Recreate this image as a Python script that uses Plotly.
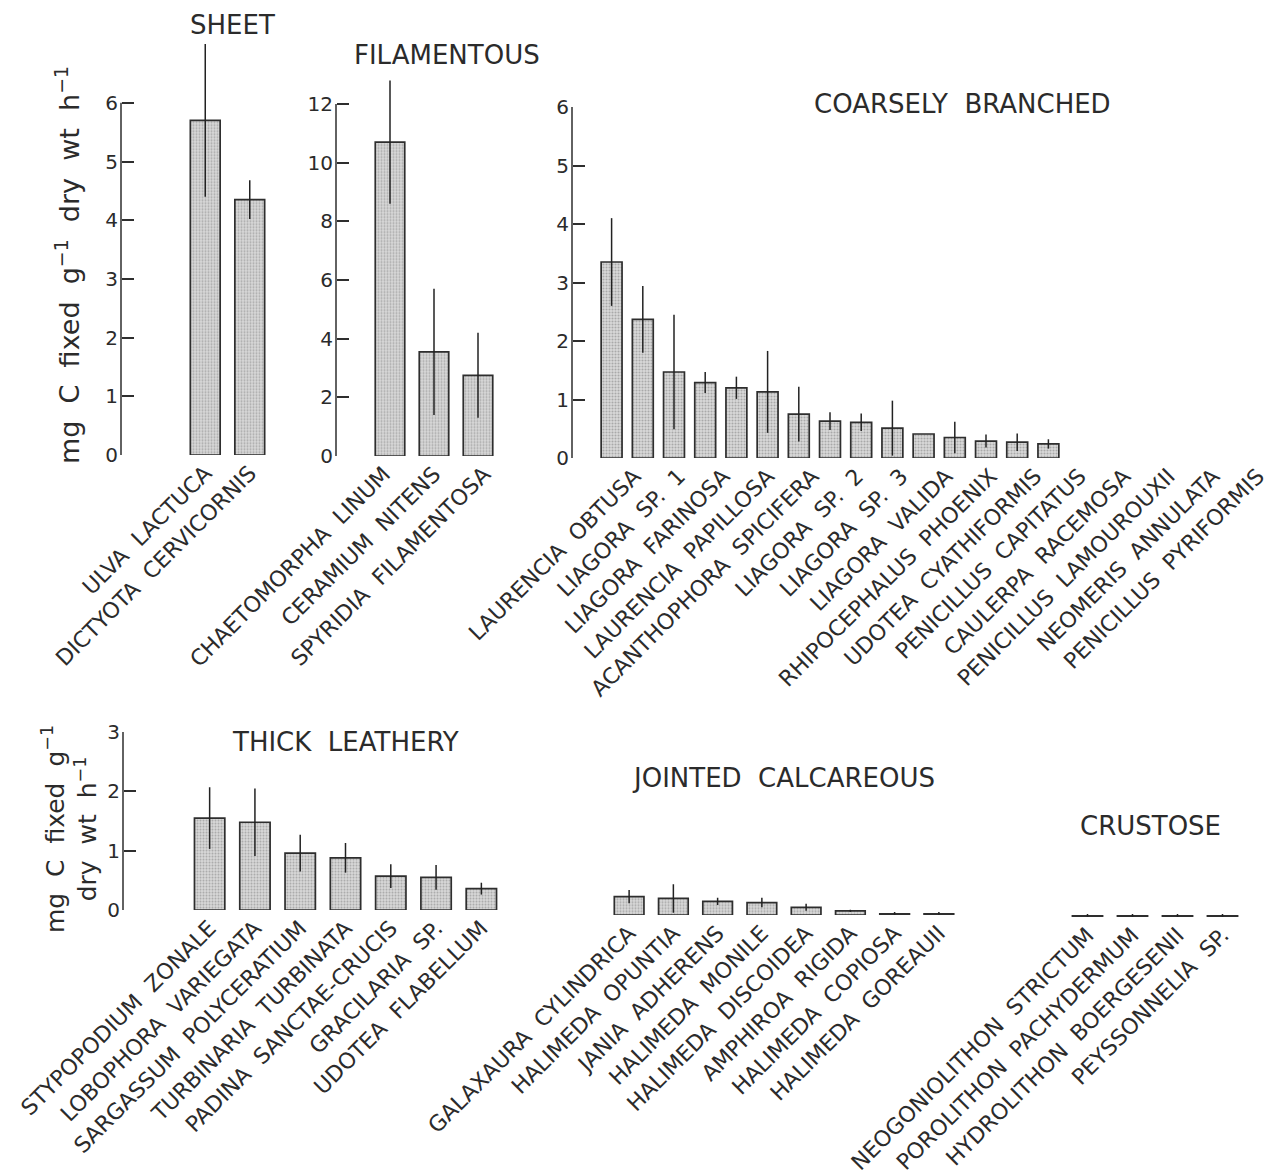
import plotly.graph_objects as go

FIG_W, FIG_H = 1288, 1174

# Net carbon fixation (mg C g^-1 dry wt h^-1), mean and SD per species,
# grouped by algal functional form.
sheet_species = ["ULVA LACTUCA", "DICTYOTA CERVICORNIS"]
sheet_rate = [5.7, 4.35]
sheet_sd = [1.3, 0.33]
sheet_ticks = [0, 1, 2, 3, 4, 5, 6]

filament_species = ["CHAETOMORPHA LINUM", "CERAMIUM NITENS", "SPYRIDIA FILAMENTOSA"]
filament_rate = [10.7, 3.55, 2.75]
filament_sd = [2.1, 2.15, 1.45]
filament_ticks = [0, 2, 4, 6, 8, 10, 12]

coarse_species = [
    "LAURENCIA OBTUSA", "LIAGORA SP. 1", "LIAGORA FARINOSA", "LAURENCIA PAPILLOSA",
    "ACANTHOPHORA SPICIFERA", "LIAGORA SP. 2", "LIAGORA SP. 3", "LIAGORA VALIDA",
    "RHIPOCEPHALUS PHOENIX", "UDOTEA CYATHIFORMIS", "PENICILLUS CAPITATUS",
    "CAULERPA RACEMOSA", "PENICILLUS LAMOUROUXII", "NEOMERIS ANNULATA",
    "PENICILLUS PYRIFORMIS",
]
coarse_rate = [3.35, 2.37, 1.47, 1.29, 1.2, 1.13, 0.75, 0.63, 0.61, 0.51, 0.41, 0.35, 0.29, 0.27, 0.24]
coarse_sd = [0.75, 0.57, 0.98, 0.18, 0.19, 0.7, 0.47, 0.15, 0.15, 0.47, 0.0, 0.27, 0.11, 0.15, 0.08]
coarse_ticks = [0, 1, 2, 3, 4, 5, 6]

leathery_species = [
    "STYPOPODIUM ZONALE", "LOBOPHORA VARIEGATA", "SARGASSUM POLYCERATIUM",
    "TURBINARIA TURBINATA", "PADINA SANCTAE-CRUCIS", "GRACILARIA SP.", "UDOTEA FLABELLUM",
]
leathery_rate = [1.55, 1.48, 0.96, 0.88, 0.57, 0.55, 0.36]
leathery_sd = [0.52, 0.57, 0.31, 0.25, 0.2, 0.21, 0.1]
leathery_ticks = [0, 1, 2, 3]

jointed_species = [
    "GALAXAURA CYLINDRICA", "HALIMEDA OPUNTIA", "JANIA ADHERENS", "HALIMEDA MONILE",
    "HALIMEDA DISCOIDEA", "AMPHIROA RIGIDA", "HALIMEDA COPIOSA", "HALIMEDA GOREAUII",
]
jointed_rate = [0.31, 0.28, 0.23, 0.21, 0.13, 0.07, 0.02, 0.02]
jointed_sd = [0.11, 0.24, 0.06, 0.08, 0.06, 0.02, 0.03, 0.03]

crustose_species = [
    "NEOGONIOLITHON STRICTUM", "POROLITHON PACHYDERMUM",
    "HYDROLITHON BOERGESENII", "PEYSSONNELIA SP.",
]
crustose_rate = [0.02, 0.02, 0.02, 0.02]
crustose_sd = [0.03, 0.03, 0.03, 0.03]

INK = "#2b2b2b"
LINE = "#2e2e2e"
FONT = "DejaVu Sans"


def fx(px):
    return px / FIG_W


def fy(py):
    return 1 - py / FIG_H


def spaced(s, n=2):
    return s.replace(" ", "\u00a0" * n)


# layout of each panel in page pixels: x span of bar slots, x span of the
# species-name slots (wider than the bars where names need more room),
# baseline, pixels per unit of rate, value-axis position, title anchor
panels = [
    dict(title="SHEET", species=sheet_species, rate=sheet_rate, sd=sheet_sd,
         ticks=sheet_ticks, xspan=(183, 272), lspan=None, base=455, scale=58.7,
         axis_x=121, title_at=(232, 25)),
    dict(title="FILAMENTOUS", species=filament_species, rate=filament_rate, sd=filament_sd,
         ticks=filament_ticks, xspan=(368, 500), lspan=(359, 509), base=456, scale=29.33,
         axis_x=336, title_at=(447, 55)),
    dict(title="COARSELY BRANCHED", species=coarse_species, rate=coarse_rate, sd=coarse_sd,
         ticks=coarse_ticks, xspan=(596, 1064), lspan=(612, 1280), base=458, scale=58.5,
         axis_x=572, title_at=(962, 104)),
    dict(title="THICK LEATHERY", species=leathery_species, rate=leathery_rate, sd=leathery_sd,
         ticks=leathery_ticks, xspan=(187, 504), lspan=None, base=910, scale=59.3,
         axis_x=123, title_at=(345, 742)),
    dict(title="JOINTED CALCAREOUS", species=jointed_species, rate=jointed_rate, sd=jointed_sd,
         ticks=None, xspan=(607, 961), lspan=None, base=915, scale=59.3,
         axis_x=None, title_at=(783, 778)),
    dict(title="CRUSTOSE", species=crustose_species, rate=crustose_rate, sd=crustose_sd,
         ticks=None, xspan=(1065, 1245), lspan=None, base=917, scale=59.3,
         axis_x=None, title_at=(1150, 826)),
]

fig = go.Figure()
layout = dict(
    width=FIG_W, height=FIG_H,
    margin=dict(l=0, r=0, t=0, b=0, autoexpand=False),
    paper_bgcolor="white", plot_bgcolor="rgba(0,0,0,0)",
    showlegend=False,
    font=dict(family=FONT, color=INK),
    annotations=[], shapes=[],
)

label_font = dict(family=FONT, size=22, color=INK)
extra_axis = len(panels)

for i, p in enumerate(panels, start=1):
    n = len(p["species"])
    xname = "x" if i == 1 else f"x{i}"
    yname = "y" if i == 1 else f"y{i}"
    xkey = "xaxis" if i == 1 else f"xaxis{i}"
    ykey = "yaxis" if i == 1 else f"yaxis{i}"
    names = [spaced(s) for s in p["species"]]

    # value range tall enough to hold the longest error bar
    data_top = max(r + s for r, s in zip(p["rate"], p["sd"]))
    ytop = max(p["ticks"][-1] if p["ticks"] else 1, data_top * 1.04)
    top_px = p["base"] - ytop * p["scale"]

    fig.add_trace(go.Bar(
        x=list(range(n)), y=p["rate"], width=0.67,
        xaxis=xname, yaxis=yname, cliponaxis=False,
        marker=dict(
            color="#d6d6d6",
            line=dict(color=LINE, width=1.7),
            pattern=dict(shape=".", size=3, solidity=0.4,
                         fgcolor="#787878", bgcolor="#dadada"),
        ),
        error_y=dict(type="data", array=p["sd"], visible=True,
                     thickness=1.5, width=0, color="#222222"),
        hoverinfo="skip",
    ))

    xa = dict(
        domain=[fx(p["xspan"][0]), fx(p["xspan"][1])],
        range=[-0.5, n - 0.5], anchor=yname, automargin=False,
        showline=False, showgrid=False, zeroline=False, ticks="",
        fixedrange=True,
    )
    if p["lspan"] is None:
        xa.update(tickmode="array", tickvals=list(range(n)), ticktext=names,
                  tickangle=-45, tickfont=label_font)
    else:
        xa.update(showticklabels=False)
        # separate category axis carrying the species names
        extra_axis += 1
        lx = f"x{extra_axis}"
        layout[f"xaxis{extra_axis}"] = dict(
            domain=[fx(p["lspan"][0]), fx(p["lspan"][1])],
            range=[-0.5, n - 0.5], anchor=yname, automargin=False,
            tickmode="array", tickvals=list(range(n)), ticktext=names,
            tickangle=-45, tickfont=label_font,
            showline=False, showgrid=False, zeroline=False, ticks="",
            fixedrange=True,
        )
        fig.add_trace(go.Scatter(
            x=list(range(n)), y=p["rate"], mode="none",
            xaxis=lx, yaxis=yname, hoverinfo="skip",
        ))
    layout[xkey] = xa

    ya = dict(
        domain=[fy(p["base"]), fy(top_px)], automargin=False,
        range=[0, ytop], showgrid=False, zeroline=False, fixedrange=True,
    )
    if p["ticks"]:
        ya.update(
            anchor="free", position=fx(p["axis_x"]), showline=False,
            ticks="inside", ticklen=12, tickwidth=1.5, tickcolor=LINE,
            tickmode="array", tickvals=p["ticks"], ticklabelstandoff=3,
            tickfont=dict(family=FONT, size=20, color=INK),
        )
        # axis spine runs only over the labelled tick span
        layout["shapes"].append(dict(
            type="line", xref="paper", yref=yname,
            x0=fx(p["axis_x"]), x1=fx(p["axis_x"]),
            y0=p["ticks"][0], y1=p["ticks"][-1],
            line=dict(color=LINE, width=1.5),
        ))
    else:
        ya.update(anchor=xname, visible=False)
    layout[ykey] = ya

    layout["annotations"].append(dict(
        text=spaced(p["title"]), x=fx(p["title_at"][0]), y=fy(p["title_at"][1]),
        xref="paper", yref="paper", showarrow=False,
        xanchor="center", yanchor="middle",
        font=dict(family=FONT, size=26, color=INK),
    ))

# value-axis titles
layout["annotations"].append(dict(
    text=spaced("mg C fixed g<sup>\u22121</sup> dry wt h<sup>\u22121</sup>"),
    x=fx(67), y=fy(265), xref="paper", yref="paper", showarrow=False,
    textangle=-90, xanchor="center", yanchor="middle",
    font=dict(family=FONT, size=27, color=INK),
))
layout["annotations"].append(dict(
    text=spaced("mg C fixed g<sup>\u22121</sup>") + "<br>" + spaced("dry wt h<sup>\u22121</sup>"),
    x=fx(69), y=fy(829), xref="paper", yref="paper", showarrow=False,
    textangle=-90, xanchor="center", yanchor="middle",
    font=dict(family=FONT, size=25, color=INK),
))

fig.update_layout(**layout)
fig.write_html("out.html")
